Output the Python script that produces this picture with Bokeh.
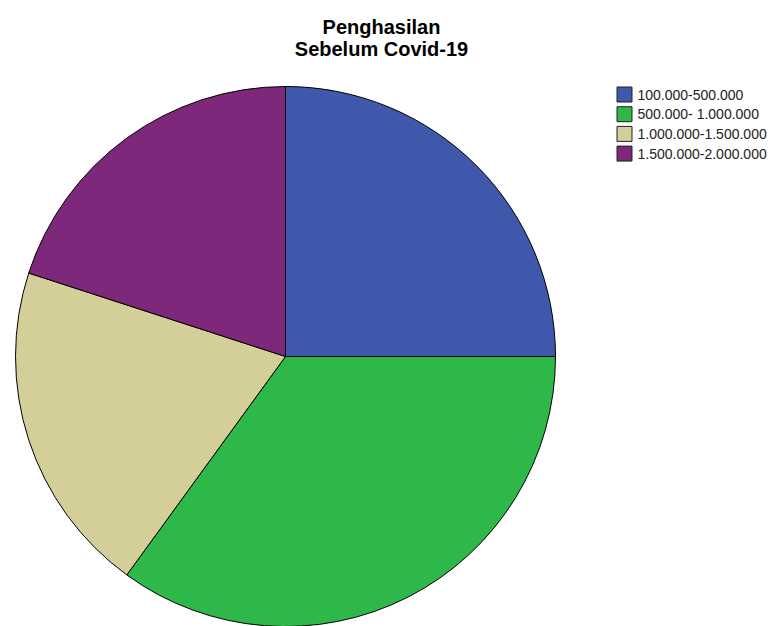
import math
from bokeh.plotting import figure
from bokeh.models import Range1d, ColumnDataSource
from bokeh.core.properties import value
from bokeh.embed import file_html
from bokeh.resources import INLINE

title_lines = ["Penghasilan", "Sebelum Covid-19"]
categories = ["100.000-500.000", "500.000- 1.000.000", "1.000.000-1.500.000", "1.500.000-2.000.000"]
values = [25, 35, 20, 20]
colors = ["#3f58ac", "#2fb84a", "#d4ce98", "#7d287b"]

W, H = 773, 626
p = figure(width=W, height=H, output_backend="svg", toolbar_location=None,
           x_range=Range1d(0, W), y_range=Range1d(0, H), min_border=0)
p.axis.visible = False
p.grid.visible = False
p.outline_line_color = None
p.background_fill_color = "white"
p.border_fill_color = "white"

total = sum(values)
starts, ends = [], []
cum = 0
for v in values:
    s = math.pi / 2 - 2 * math.pi * cum / total
    cum += v
    e = math.pi / 2 - 2 * math.pi * cum / total
    starts.append(s)
    ends.append(e)

src = ColumnDataSource(dict(start=starts, end=ends, color=colors, cat=categories))
cx, cy, r = 285, H - 356, 270
p.wedge(x=cx, y=cy, radius=r, start_angle="start", end_angle="end", direction="clock",
        fill_color="color", line_color="black", line_width=1, source=src)

# title
p.text(x=[381, 381], y=[H - 26, H - 48.5], text=title_lines, text_font=value("Liberation Sans"),
       text_font_style="bold", text_font_size="20px", text_align="center",
       text_baseline="alphabetic", text_color="black")

# legend
ly = [H - (94 + 19.7 * i) for i in range(len(categories))]
p.rect(x=[624] * len(categories), y=ly, width=15, height=15, fill_color=colors,
       line_color="#222222", line_width=1)
p.text(x=[637] * len(categories), y=ly, text=categories, text_font=value("Liberation Sans"),
       text_font_size="14px", text_align="left", text_baseline="middle", text_color="#222222")

open("out.html", "w").write(file_html(p, INLINE))
